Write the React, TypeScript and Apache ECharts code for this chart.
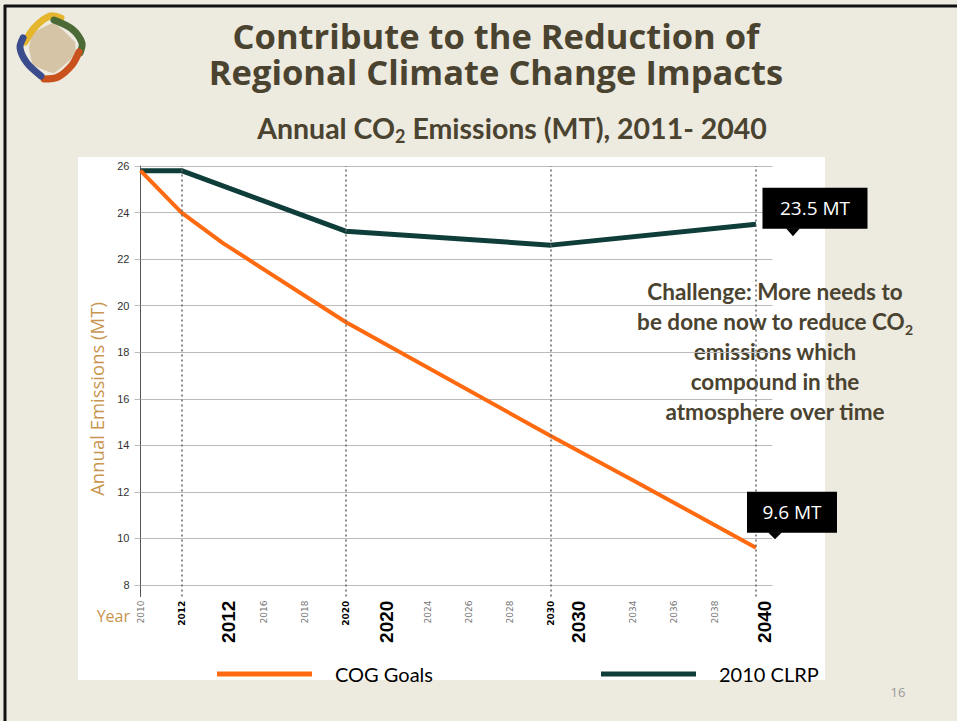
import React, { useEffect, useRef } from 'react';
import * as echarts from 'echarts';

// ---- data ----
const seriesNames = ['COG Goals', '2010 CLRP'];
const cogYears = [2010, 2012, 2014, 2020, 2030, 2034, 2040];
const cogValues = [25.8, 24.0, 22.7, 19.3, 14.4, 12.5, 9.6];
const clrpYears = [2010, 2012, 2020, 2030, 2040];
const clrpValues = [25.8, 25.8, 23.2, 22.6, 23.5];
const yTicks = [8, 10, 12, 14, 16, 18, 20, 22, 24, 26];
const xTickYears = [2010, 2012, 2014, 2016, 2018, 2020, 2022, 2024, 2026, 2028, 2030, 2032, 2034, 2036, 2038, 2040];
const xTickLabels = ['2010', '2012', '2012', '2016', '2018', '2020', '2020', '2024', '2026', '2028', '2030', '2030', '2034', '2036', '2038', '2040'];
const milestoneYears = [2012, 2020, 2030, 2040];

const TITLE_COLOR = '#4A4330';
const TAN = '#C8954F';
const ORANGE = '#FF6A10';
const TEAL = '#0F3D3A';

export default function App() {
  const ref = useRef<HTMLDivElement>(null);
  useEffect(() => {
    if (!ref.current) return;
    const chart = echarts.init(ref.current, undefined, { renderer: 'svg' });

    const bigStyle = (pad: number[]) => ({
      fontSize: 19, fontWeight: 'bold', color: '#000', fontFamily: 'Liberation Sans', padding: pad,
    });

    const option: any = {
      animation: false,
      backgroundColor: '#EDEAE0',
      grid: { left: 140.5, right: 184.6, top: 166, bottom: 124.4, containLabel: false },
      xAxis: {
        type: 'value', min: 2010, max: 2040.8,
        axisLine: { show: false }, axisTick: { show: false }, splitLine: { show: false },
        axisLabel: {
          customValues: xTickYears,
          rotate: 90, margin: 4,
          formatter: (v: number) => {
            const i = xTickYears.indexOf(v);
            if (i < 0) return '';
            const t = xTickLabels[i];
            if (String(v) !== t || v === 2040) {
              return `{g${v}|${t}}`;
            }
            if (milestoneYears.indexOf(v) >= 0) return `{b|${t}}`;
            return `{s|${t}}`;
          },
          rich: {
            s: { fontSize: 9, color: '#777', fontFamily: 'DejaVu Sans' },
            b: { fontSize: 9, color: '#000', fontWeight: 'bold', fontFamily: 'DejaVu Sans' },
            g2014: bigStyle([12, 0, 0, 0]),
            g2022: bigStyle([0, 0, 0, 0]),
            g2032: bigStyle([0, 0, 26, 0]),
            g2040: bigStyle([18, 0, 0, 0]),
          },
        },
      },
      yAxis: {
        type: 'value', min: 7.5, max: 26,
        axisLine: { show: true, lineStyle: { color: '#555', width: 1 } },
        axisTick: { show: true, customValues: yTicks, length: 6, lineStyle: { color: '#bbb' } },
        splitLine: { show: true, lineStyle: { color: '#bbb', width: 1 } },
        axisLabel: { customValues: yTicks, margin: 11, fontSize: 11, color: '#333', fontFamily: 'Liberation Sans' },
      },
      legend: [
        {
          data: [seriesNames[0]], left: 212, top: 659, itemWidth: 95, itemHeight: 5, icon: 'rect',
          textStyle: { fontSize: 20, color: '#000', fontFamily: 'Lato', padding: [0, 0, 0, 18] },
        },
        {
          data: [seriesNames[1]], left: 596, top: 659, itemWidth: 95, itemHeight: 5, icon: 'rect',
          textStyle: { fontSize: 20, color: '#000', fontFamily: 'Lato', padding: [0, 0, 0, 18] },
        },
      ],
      series: [
        {
          name: seriesNames[1], type: 'line', color: TEAL, symbol: 'none',
          lineStyle: { width: 5, color: TEAL },
          data: clrpYears.map((y, i) => [y, clrpValues[i]]),
          markPoint: {
            silent: true,
            data: [
              {
                coord: [clrpYears[clrpYears.length - 1], clrpValues[clrpValues.length - 1]],
                value: clrpValues[clrpValues.length - 1],
                symbol: 'rect', symbolSize: [105, 41], symbolOffset: [59, -16],
                itemStyle: { color: '#000' },
                label: { show: true, formatter: '{c} MT', color: '#fff', fontSize: 19, fontFamily: 'Open Sans' },
              },
              {
                coord: [clrpYears[clrpYears.length - 1], clrpValues[clrpValues.length - 1]],
                symbol: 'triangle', symbolRotate: 180, symbolSize: [14, 8], symbolOffset: [37, 8],
                itemStyle: { color: '#000' }, label: { show: false },
              },
            ],
          },
        },
        {
          name: seriesNames[0], type: 'line', color: ORANGE, symbol: 'none',
          lineStyle: { width: 4, color: ORANGE },
          data: cogYears.map((y, i) => [y, cogValues[i]]),
          markLine: {
            silent: true, symbol: 'none', label: { show: false },
            lineStyle: { type: [2, 3], color: '#666', width: 1.5 },
            data: milestoneYears.map((y) => ({ xAxis: y })),
          },
          markPoint: {
            silent: true,
            data: [
              {
                coord: [cogYears[cogYears.length - 1], cogValues[cogValues.length - 1]],
                value: cogValues[cogValues.length - 1],
                symbol: 'rect', symbolSize: [90, 41], symbolOffset: [36, -35.5],
                itemStyle: { color: '#000' },
                label: { show: true, formatter: '{c} MT', color: '#fff', fontSize: 19, fontFamily: 'Open Sans' },
              },
              {
                coord: [cogYears[cogYears.length - 1], cogValues[cogValues.length - 1]],
                symbol: 'triangle', symbolRotate: 180, symbolSize: [14, 7], symbolOffset: [19, -12],
                itemStyle: { color: '#000' }, label: { show: false },
              },
            ],
          },
        },
      ],
      graphic: [
        // white panel
        { type: 'rect', z: -10, shape: { x: 78, y: 157, width: 747, height: 523 }, style: { fill: '#fff' } },
        // page border
        { type: 'line', shape: { x1: 4, y1: 6, x2: 957, y2: 6 }, style: { stroke: '#111', lineWidth: 3 } },
        { type: 'line', shape: { x1: 5, y1: 5, x2: 5, y2: 721 }, style: { stroke: '#111', lineWidth: 3 } },
        // logo
        { type: 'polygon', shape: { points: [[33, 33], [54, 23], [75, 42], [75, 55], [54, 73], [33, 65], [29, 48]], smooth: 0.1 }, style: { fill: '#D6C4A6' } },
        { type: 'polyline', shape: { points: [[25, 42], [35, 27], [50, 16], [61, 18]], smooth: 0.3 }, style: { stroke: '#E6B52E', lineWidth: 7, lineCap: 'round', fill: 'none' } },
        { type: 'polyline', shape: { points: [[54, 20], [72, 29], [82, 43], [80, 53]], smooth: 0.3 }, style: { stroke: '#4C6A36', lineWidth: 7, lineCap: 'round', fill: 'none' } },
        { type: 'polyline', shape: { points: [[79, 52], [72, 65], [58, 77], [44, 79]], smooth: 0.3 }, style: { stroke: '#C9521C', lineWidth: 7, lineCap: 'round', fill: 'none' } },
        { type: 'polyline', shape: { points: [[41, 76], [27, 63], [20, 48], [23, 38]], smooth: 0.3 }, style: { stroke: '#3B4C8C', lineWidth: 7, lineCap: 'round', fill: 'none' } },
        // titles
        {
          type: 'text', x: 496, y: 53,
          style: {
            text: 'Contribute to the Reduction of\nRegional Climate Change Impacts', fontSize: 34.5, lineHeight: 36,
            fontWeight: 'bold', fontFamily: 'Open Sans', fill: TITLE_COLOR, align: 'center', verticalAlign: 'middle',
          },
        },
        {
          type: 'text', x: 512, y: 128,
          style: {
            text: 'Annual CO{sub|2} Emissions (MT), 2011- 2040', fontSize: 28.5, fontWeight: 'bold', fontFamily: 'Lato',
            fill: TITLE_COLOR, align: 'center', verticalAlign: 'middle', lineHeight: 34,
            rich: { sub: { fontSize: 18, fontWeight: 'bold', fontFamily: 'Lato', fill: TITLE_COLOR, lineHeight: 12, verticalAlign: 'bottom' } },
          },
        },
        // challenge note
        {
          type: 'text', x: 775, y: 276,
          style: {
            text: 'Challenge: More needs to\nbe done now to reduce CO{sub|2}\nemissions which\ncompound in the\natmosphere over time',
            fontSize: 22.5, fontWeight: 'bold', fontFamily: 'Lato', fill: TITLE_COLOR, align: 'center', lineHeight: 30,
            rich: { sub: { fontSize: 14, fontWeight: 'bold', fontFamily: 'Lato', fill: TITLE_COLOR, lineHeight: 10, verticalAlign: 'bottom' } },
          },
        },
        // axis names
        { type: 'text', x: 96, y: 399, rotation: Math.PI / 2, style: { text: 'Annual Emissions (MT)', fontSize: 18.5, fontFamily: 'Open Sans', fill: TAN, align: 'center', verticalAlign: 'middle' } },
        { type: 'text', x: 130, y: 616, style: { text: 'Year', fontSize: 16, fontFamily: 'Open Sans', fill: TAN, align: 'right', verticalAlign: 'middle' } },
        // page number
        { type: 'text', x: 898, y: 692, style: { text: '16', fontSize: 13, fontFamily: 'Open Sans', fill: '#999', align: 'center', verticalAlign: 'middle' } },
      ],
    };
    chart.setOption(option);
    return () => chart.dispose();
  }, []);
  return <div ref={ref} style={{ position: 'fixed', left: 0, top: 0, width: 957, height: 721 }} />;
}
